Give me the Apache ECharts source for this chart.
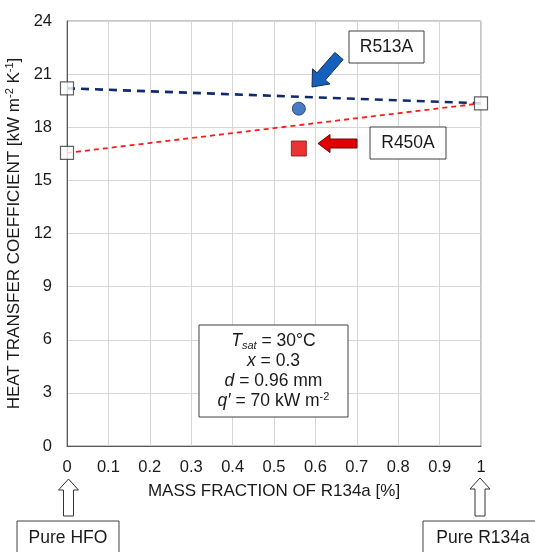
<!DOCTYPE html>
<html><head><meta charset="utf-8">
<script src="https://cdn.jsdelivr.net/npm/echarts@6/dist/echarts.min.js"></script>
<style>html,body{margin:0;padding:0;background:#fff}#c{width:535px;height:552px}</style>
</head><body><div id="c"></div>
<script>
// ---- data ----
const xTicks = [0,0.1,0.2,0.3,0.4,0.5,0.6,0.7,0.8,0.9,1];
const yTicks = [0,3,6,9,12,15,18,21,24];
const r513aLine = [[0,20.2],[1,19.35]];
const r450aLine = [[0,16.55],[1,19.35]];
const pureEnds = [[0,20.2],[0,16.55],[1,19.35]];
const r513aPoint = [[0.56,19.05]];
const r450aPoint = [[0.56,16.8]];

const chart = echarts.init(document.getElementById('c'));
const FONT = 'Liberation Sans, Arial, sans-serif';

function arrowPts(tip, tail, headW, headL, shaftW){
  const dx = tail[0]-tip[0], dy = tail[1]-tip[1];
  const L = Math.hypot(dx,dy), ux = dx/L, uy = dy/L, px = -uy, py = ux;
  const b = [tip[0]+ux*headL, tip[1]+uy*headL];
  return [
    tip,
    [b[0]+px*headW/2, b[1]+py*headW/2],
    [b[0]+px*shaftW/2, b[1]+py*shaftW/2],
    [tail[0]+px*shaftW/2, tail[1]+py*shaftW/2],
    [tail[0]-px*shaftW/2, tail[1]-py*shaftW/2],
    [b[0]-px*shaftW/2, b[1]-py*shaftW/2],
    [b[0]-px*headW/2, b[1]-py*headW/2]
  ];
}
const lbl = (x,y,t)=>({type:'text',x:x,y:y,z:11,style:{text:t,font:'17.5px '+FONT,fill:'#1a1a1a',align:'center',verticalAlign:'middle'}});
const box = (x,y,w,h)=>({type:'rect',z:10,shape:{x:x,y:y,width:w,height:h},style:{fill:'#fff',stroke:'#404040',lineWidth:1}});

const option = {
  animation:false,
  backgroundColor:'#fff',
  grid:{left:67,right:54,top:21,bottom:106,outerBoundsMode:'none',containLabel:false,show:true,borderColor:'#8c8c8c',borderWidth:1},
  xAxis:{type:'value',min:0,max:1,interval:0.1,
    name:'MASS FRACTION OF R134a [%]',nameLocation:'middle',nameGap:37,
    nameTextStyle:{fontFamily:FONT,fontSize:17,color:'#1a1a1a'},
    axisLine:{show:true,lineStyle:{color:'#595959',width:1}},
    axisTick:{show:false},
    axisLabel:{fontFamily:FONT,fontSize:16.5,color:'#1a1a1a',margin:13,
      formatter:v=>{const t=xTicks.find(a=>Math.abs(a-v)<1e-6);return t===undefined?'':String(t);}},
    splitLine:{show:true,lineStyle:{color:'#d6d6d6',width:1}}
  },
  yAxis:{type:'value',min:0,max:24,interval:3,
    name:'{n|HEAT TRANSFER COEFFICIENT [kW m}{s|-2}{n| K}{s|-1}{n|]}',
    nameLocation:'middle',nameGap:40,nameRotate:90,
    nameTextStyle:{fontFamily:FONT,fontSize:17,color:'#1a1a1a',
      rich:{n:{fontFamily:FONT,fontSize:17,color:'#1a1a1a',lineHeight:20},
            s:{fontFamily:FONT,fontSize:11,color:'#1a1a1a',lineHeight:11,verticalAlign:'top'}}},
    axisLine:{show:true,lineStyle:{color:'#595959',width:1}},
    axisTick:{show:false},
    axisLabel:{fontFamily:FONT,fontSize:16.5,color:'#1a1a1a',margin:15,
      formatter:v=>yTicks.includes(v)?String(v):''},
    splitLine:{show:true,lineStyle:{color:'#d6d6d6',width:1}}
  },
  series:[
    {type:'line',data:r513aLine,symbol:'none',lineStyle:{color:'#0f2a6e',width:2.6,type:[8,6]},z:3},
    {type:'line',data:r450aLine,symbol:'none',lineStyle:{color:'#ff1a1a',width:1.8,type:[5,4]},z:3},
    {type:'scatter',data:pureEnds,symbol:'rect',symbolSize:13,clip:false,
      itemStyle:{color:'#fff',borderColor:'#3a3a3a',borderWidth:1.2},z:5},
    {type:'scatter',data:r513aPoint,symbol:'circle',symbolSize:13,
      itemStyle:{color:'#1a5cb8',borderColor:'#1b2f5a',borderWidth:1},z:5},
    {type:'scatter',data:r450aPoint,symbol:'rect',symbolSize:15,
      itemStyle:{color:'#e60000',borderColor:'#7a1010',borderWidth:1},z:5}
  ],
  graphic:[
    {type:'polygon',shape:{points:arrowPts([312,87],[339,56],23,14,11)},
      style:{fill:'#1560bd',stroke:'#1a2a4a',lineWidth:1},z:10},
    {type:'polygon',shape:{points:arrowPts([318,143.5],[357,143.5],18,12,9)},
      style:{fill:'#e00000',stroke:'#6a0a0a',lineWidth:1},z:10},
    box(349,31,75,32), lbl(386.5,47.5,'R513A'),
    box(370,127,76,32), lbl(408,143.5,'R450A'),
    box(199,325,149,92),
    {type:'text',x:273.5,y:371,z:11,style:{
      text:'{i|T}{sub|sat}{n| = 30°C}\n{i|x}{n| = 0.3}\n{i|d}{n| = 0.96 mm}\n{i|q\u2032}{n| = 70 kW m}{sup|-2}',
      align:'center',verticalAlign:'middle',fill:'#1a1a1a',font:'17.5px '+FONT,
      rich:{n:{fontFamily:FONT,fontSize:17.5,lineHeight:20,fill:'#1a1a1a'},
            i:{fontFamily:FONT,fontSize:17.5,fontStyle:'italic',lineHeight:20,fill:'#1a1a1a'},
            sub:{fontFamily:FONT,fontSize:11,fontStyle:'italic',lineHeight:11,verticalAlign:'bottom',fill:'#1a1a1a'},
            sup:{fontFamily:FONT,fontSize:11,lineHeight:11,verticalAlign:'top',fill:'#1a1a1a'}}}},
    {type:'polygon',shape:{points:arrowPts([68.5,479],[68.5,516],20,11,10)},style:{fill:'#fff',stroke:'#333',lineWidth:1},z:10},
    {type:'polygon',shape:{points:arrowPts([480,478],[480,516],20,11,10)},style:{fill:'#fff',stroke:'#333',lineWidth:1},z:10},
    box(17,521,102,40), lbl(68,538,'Pure HFO'),
    box(423,521,130,40), lbl(483,538,'Pure R134a')
  ]
};
chart.setOption(option);
</script></body></html>
